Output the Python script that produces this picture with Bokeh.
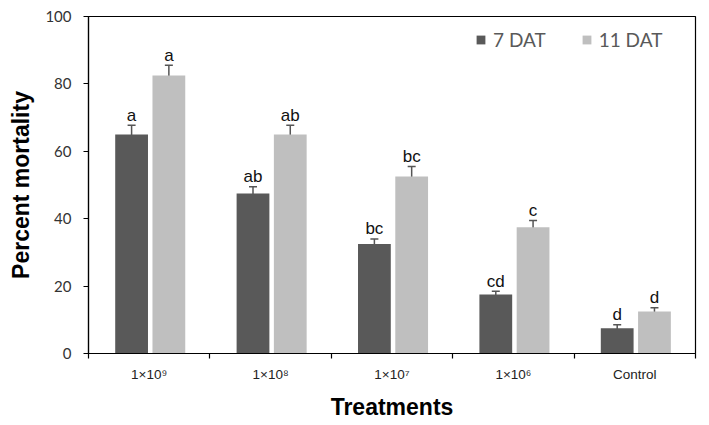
import numpy as np
from bokeh.plotting import figure
from bokeh.models import (ColumnDataSource, Range1d, FixedTicker, Whisker, TeeHead,
                          Legend, LegendItem)
from bokeh.core.properties import value
from bokeh.embed import file_html
from bokeh.resources import INLINE

categories = ["1×10⁹", "1×10⁸", "1×10⁷", "1×10⁶", "Control"]
dat7 = [65.0, 47.5, 32.5, 17.5, 7.5]
err7 = [2.7, 2.0, 1.5, 1.0, 1.0]
dat11 = [82.5, 65.0, 52.5, 37.5, 12.5]
err11 = [3.0, 2.7, 3.0, 2.0, 1.1]
letters7 = ["a", "ab", "bc", "cd", "d"]
letters11 = ["a", "ab", "bc", "c", "d"]
y_ticks = [0, 20, 40, 60, 80, 100]

DARK = "#595959"
LIGHT = "#bfbfbf"

centers = np.arange(len(categories)) + 0.5

def make_src(vals, errs, letters, off):
    vals = np.array(vals)
    errs = np.array(errs)
    return ColumnDataSource(dict(x=centers + off, top=vals, upper=vals + errs,
                                 lower=vals - errs, lab=letters))

s7 = make_src(dat7, err7, letters7, -0.145)
s11 = make_src(dat11, err11, letters11, 0.162)

p = figure(width=709, height=425, output_backend="svg", toolbar_location=None,
           x_range=Range1d(0, len(categories)), y_range=Range1d(0, 100),
           min_border_left=88, min_border_right=14, min_border_top=16, min_border_bottom=72)

r7 = p.vbar(x="x", top="top", width=0.27, source=s7, fill_color=DARK, line_color=None)
r11 = p.vbar(x="x", top="top", width=0.27, source=s11, fill_color=LIGHT, line_color=None)

for s in (s7, s11):
    w = Whisker(base="x", upper="upper", lower="lower", source=s,
                line_color="#555555", line_width=1.5,
                upper_head=TeeHead(size=8, line_color="#555555", line_width=1.5),
                lower_head=TeeHead(size=8, line_color="#555555", line_width=1.5))
    p.add_layout(w)
    p.text(x="x", y="upper", text="lab", source=s, text_align="center",
           text_baseline="alphabetic", y_offset=-10,
           text_font=value("Liberation Sans"), text_font_size="17px", text_color="#111111")

p.xgrid.visible = False
p.ygrid.visible = False
p.outline_line_color = "black"
p.outline_line_width = 1.2

# x axis
xa = p.xaxis[0]
xa.ticker = FixedTicker(ticks=list(centers), minor_ticks=list(range(len(categories) + 1)))
xa.major_label_overrides = {float(c): lab for c, lab in zip(centers, categories)}
xa.major_tick_line_color = None
xa.minor_tick_out = 5
xa.minor_tick_in = 0
xa.minor_tick_line_color = "black"
xa.minor_tick_line_width = 1.2
xa.axis_line_color = "black"
xa.axis_line_width = 1.2
xa.major_label_text_font = "Liberation Sans"
xa.major_label_text_font_size = "13.5px"
xa.major_label_text_color = "#222222"
xa.major_label_standoff = 7
xa.axis_label = "Treatments"
xa.axis_label_text_font = "Liberation Sans"
xa.axis_label_text_font_style = "bold"
xa.axis_label_text_font_size = "23px"
xa.axis_label_text_color = "black"
xa.axis_label_standoff = 9

# y axis
ya = p.yaxis[0]
ya.ticker = FixedTicker(ticks=y_ticks)
ya.minor_tick_line_color = None
ya.major_tick_out = 5
ya.major_tick_in = 0
ya.major_tick_line_color = "black"
ya.major_tick_line_width = 1.2
ya.axis_line_color = "black"
ya.axis_line_width = 1.2
ya.major_label_text_font = "Lato"
ya.major_label_text_font_size = "15px"
ya.major_label_text_color = "#333333"
ya.major_label_standoff = 12
ya.axis_label = "Percent mortality"
ya.axis_label_text_font = "Liberation Sans"
ya.axis_label_text_font_style = "bold"
ya.axis_label_text_font_size = "23px"
ya.axis_label_text_color = "black"
ya.axis_label_standoff = 8

legend = Legend(items=[LegendItem(label="7 DAT", renderers=[r7]),
                       LegendItem(label="11 DAT", renderers=[r11])],
                orientation="horizontal", location=(387, 302),
                border_line_color=None, background_fill_alpha=0,
                padding=0, margin=0, spacing=35,
                glyph_width=11, glyph_height=11, label_standoff=7, label_height=20,
                label_text_font="Lato", label_text_font_size="19px",
                label_text_color="#595959")
p.add_layout(legend)

open("out.html", "w").write(file_html(p, INLINE))
